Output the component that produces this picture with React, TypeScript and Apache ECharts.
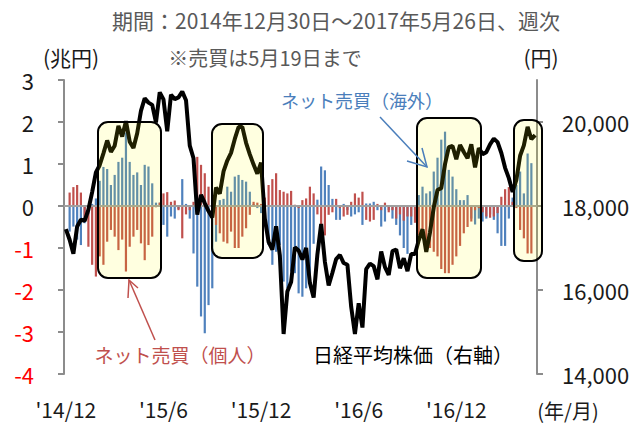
import React, { useEffect, useRef } from "react";
import * as echarts from "echarts";

const FONT = '"Noto Sans CJK JP", "Noto Sans", sans-serif';

const titleText = "期間：2014年12月30日～2017年5月26日、週次";
const noteText = "※売買は5月19日まで";
const leftUnit = "(兆円)";
const rightUnit = "(円)";
const xUnit = "(年/月)";
const foreignLabel = "ネット売買（海外）";
const individualLabel = "ネット売買（個人）";
const nikkeiLabel = "日経平均株価（右軸）";

const tickIndices = [0, 26, 52, 78, 104];
const tickLabels = ["'14/12", "'15/6", "'15/12", "'16/6", "'16/12"];
const rightTicks = [14000, 16000, 18000, 20000];

// Net purchases by foreign investors (trillion yen), weekly
const foreign = [
  null, -0.61, -0.49, -0.8, -0.93, -0.41, -0.2, 0.05, 0.18, 0.6,
  0.93, 0.88, 0.5, 0.74, 1.05, 1.15, 1.75, 1.05, 0.74, 0.8,
  0.5, 0.98, 0.94, 0.54, 0.08, 0.08, -0.45, -0.73, -0.25, -0.3,
  -0.07, 0.64, 0.05, -0.3, -1.13, -1.92, -2.63, -3.03, -2.36, -1.96,
  -0.85, 0.14, 0.17, 0.46, 0.34, 0.7, 0.74, 0.62, 0.58, 0.34,
  0.05, -0.05, -0.17, -0.3, -0.93, -1.4, -1.09, -0.93, -1.8, -1.96,
  -1.56, -1.6, -2.08, -2.16, -1.96, -1.84, -0.9, 0.15, 0.94, 0.85,
  0.5, 0.17, -0.33, -0.33, 0.05, -0.1, -0.25, -0.2, -0.15, -0.45,
  0.06, 0.06, 0.1, -0.1, -0.49, -0.37, -0.1, -0.3, -0.45, -0.7,
  -1.0, -1.14, -0.45, -0.1, 0.26, 0.46, 0.3, 0.35, 0.82, 1.15,
  1.58, 1.77, 0.86, 0.7, 0.4, 0.14, 0.14, 0.26, -0.3, -0.44,
  -0.3, -0.37, -0.3, -0.2, -0.33, -0.65, -0.95, -0.95, -0.3, 0.2,
  0.5, 0.82, 0.3, 1.25, 1.02, null,
];

// Net purchases by individual investors (trillion yen), weekly
const individual = [
  null, 0.32, 0.45, 0.5, 0.32, -0.3, -0.97, -1.4, -1.68, -1.2,
  -1.4, -0.85, -0.57, -0.73, -1.05, -0.8, -1.56, -0.97, -0.73, -0.57,
  -0.89, -1.29, -0.93, -0.73, -0.03, 0.08, 0.3, 0.33, 0.1, 0.13,
  -0.1, -0.77, -0.2, -0.1, 0.1, 1.17, 0.98, 0.78, 0.46, 0.2,
  -0.45, -0.65, -0.85, -0.89, -0.61, -1.0, -1.0, -0.73, -0.53, -0.21,
  0.1, 0.08, 0.05, 0.2, 0.5, 0.64, 0.78, 0.38, 0.34, 0.3,
  0.36, 0.03, -0.05, 0.14, 0.18, 0.46, 0.3, -0.2, -0.55, -0.7,
  -0.21, -0.15, 0.17, -0.05, -0.25, -0.21, 0.1, 0.3, 0.2, 0.34,
  -0.33, -0.37, -0.33, 0.05, -0.1, 0.08, -0.15, -0.1, -0.3, -0.2,
  -0.35, -0.25, -0.25, -0.4, -0.7, -0.65, -0.81, -1.0, -1.09, -1.2,
  -1.5, -1.6, -1.6, -1.4, -1.2, -0.95, -0.65, -0.5, -0.37, -0.1,
  -0.05, -0.15, -0.25, -0.28, -0.25, -0.17, 0.22, 0.4, 0.45, 0.1,
  -0.05, -0.57, -0.77, -1.13, -1.13, null,
];

// Nikkei 225 (yen), weekly
const nikkei = [
  17450, 17197, 16864, 17511, 17674, 17648, 17913, 18332, 18798, 18971,
  19254, 19560, 19286, 19435, 19908, 19653, 20020, 19532, 19380, 19733,
  20264, 20563, 20461, 20407, 19990, 20706, 20539, 19780, 20650, 20544,
  20585, 20724, 20519, 19436, 19136, 17792, 18264, 18070, 17880, 17725,
  18438, 18291, 18825, 19083, 19265, 19597, 19879, 19883, 19504, 19230,
  18986, 18769, 19034, 17698, 17147, 16958, 17518, 16820, 14952, 15967,
  16188, 17015, 16939, 16725, 17002, 16164, 15822, 16848, 17572, 16666,
  16106, 16412, 16736, 16834, 16642, 16601, 15599, 14952, 15682, 15106,
  16497, 16627, 16569, 16254, 16919, 16545, 16360, 16925, 16965, 16519,
  16754, 16449, 16860, 16856, 17184, 17446, 16905, 17374, 17968, 18381,
  18426, 18996, 19401, 19428, 19114, 19454, 19287, 19137, 19467, 18918,
  19378, 19235, 19283, 19469, 19604, 19521, 19262, 18909, 18664, 18335,
  18620, 19197, 19445, 19883, 19590, 19686,
];

function buildCategories(n: number): string[] {
  const out: string[] = ["2014/12/30"];
  for (let k = 1; k < n; k++) {
    const d = new Date(2015, 0, 9 + 7 * (k - 1));
    out.push(`${d.getFullYear()}/${d.getMonth() + 1}/${d.getDate()}`);
  }
  return out;
}

const categories = buildCategories(nikkei.length);

export default function App() {
  const ref = useRef<HTMLDivElement>(null);

  useEffect(() => {
    if (!ref.current) return;
    const chart = echarts.init(ref.current, undefined, { renderer: "svg" });
    const boxStyle = { fill: "rgba(255,255,0,0.12)", stroke: "#000", lineWidth: 2 };
    const boxes = [
      [98, 122, 63, 156],
      [212, 124, 51, 134],
      [417, 118, 64, 160],
      [514, 120, 28, 141],
    ];
    const txt = (x: number, y: number, text: string, color: string, size: number, align = "center") => ({
      type: "text",
      x,
      y,
      z: 110,
      style: {
        text,
        fill: color,
        fontSize: size,
        fontFamily: FONT,
        align,
        verticalAlign: "middle",
      },
    });
    const option: any = {
      animation: false,
      backgroundColor: "#fff",
      textStyle: { fontFamily: FONT },
      grid: { left: 64, right: 106, top: 80, bottom: 49, containLabel: false },
      xAxis: {
        type: "category",
        data: categories,
        boundaryGap: true,
        axisLine: { show: false },
        axisTick: { show: false },
        splitLine: { show: false },
        axisLabel: {
          interval: (i: number) => tickIndices.includes(i),
          formatter: (_v: string, i: number) => {
            const j = tickIndices.indexOf(i);
            return j >= 0 ? tickLabels[j] : "";
          },
          fontSize: 21,
          color: "#1a1a1a",
          margin: 24,
          fontFamily: FONT,
        },
      },
      yAxis: [
        {
          type: "value",
          min: -4,
          max: 3,
          interval: 1,
          position: "left",
          axisLine: { show: true, lineStyle: { color: "#8c8c8c", width: 2 } },
          axisTick: { show: true, length: 6, lineStyle: { color: "#8c8c8c", width: 2 } },
          splitLine: { show: false },
          axisLabel: {
            fontSize: 22,
            margin: 30,
            fontFamily: FONT,
            color: (v: any) => (Number(v) < 0 ? "#ff0000" : "#1a1a1a"),
          },
        },
        {
          type: "value",
          min: 14000,
          max: 21000,
          interval: 2000,
          position: "right",
          axisLine: { show: true, lineStyle: { color: "#8c8c8c", width: 2 } },
          axisTick: { show: true, length: 6, customValues: rightTicks, lineStyle: { color: "#8c8c8c", width: 2 } },
          splitLine: { show: false },
          axisLabel: {
            customValues: rightTicks,
            fontSize: 22,
            margin: 25,
            fontFamily: FONT,
            color: "#1a1a1a",
            formatter: (v: number) => (rightTicks.includes(v) ? v.toLocaleString("en-US") : ""),
          },
        },
      ],
      series: [
        {
          type: "bar",
          name: "foreign",
          data: foreign,
          barWidth: 2.2,
          barGap: "-100%",
          itemStyle: { color: "#4f81bd" },
          markLine: {
            silent: true,
            symbol: "none",
            label: { show: false },
            lineStyle: { color: "#a0a0a0", width: 2, type: "solid" },
            data: [{ yAxis: 0 }],
          },
        },
        {
          type: "bar",
          name: "individual",
          data: individual,
          barWidth: 2.2,
          itemStyle: { color: "#c0504d" },
        },
        {
          type: "line",
          name: "nikkei",
          yAxisIndex: 1,
          data: nikkei,
          symbol: "none",
          lineStyle: { color: "#000", width: 4 },
          z: 5,
        },
      ],
      graphic: [
        ...boxes.map((b) => ({
          type: "rect",
          z: 100,
          shape: { x: b[0], y: b[1], width: b[2], height: b[3], r: 10 },
          style: boxStyle,
        })),
        txt(336, 20, titleText, "#595959", 21),
        txt(265, 57, noteText, "#595959", 20),
        txt(71, 57, leftUnit, "#1a1a1a", 21),
        txt(541, 57, rightUnit, "#1a1a1a", 21),
        txt(568, 410, xUnit, "#1a1a1a", 20),
        txt(362, 100, foreignLabel, "#4a7ebb", 18),
        txt(180, 354, individualLabel, "#c0504d", 19),
        txt(413, 354, nikkeiLabel, "#000", 20),
        {
          type: "polyline",
          z: 110,
          shape: { points: [[380, 117], [427, 167]] },
          style: { stroke: "#4a7ebb", lineWidth: 1.5, fill: null },
        },
        {
          type: "polyline",
          z: 110,
          shape: { points: [[407, 161], [427, 167], [422, 148]] },
          style: { stroke: "#4a7ebb", lineWidth: 1.5, fill: null },
        },
        {
          type: "polyline",
          z: 110,
          shape: { points: [[155, 340], [129, 280]] },
          style: { stroke: "#c0504d", lineWidth: 1.5, fill: null },
        },
        {
          type: "polyline",
          z: 110,
          shape: { points: [[128, 298], [129, 280], [138, 288]] },
          style: { stroke: "#c0504d", lineWidth: 1.5, fill: null },
        },
      ],
    };
    chart.setOption(option);
    return () => chart.dispose();
  }, []);

  return (
    <div
      ref={ref}
      style={{ position: "fixed", left: 0, top: 0, width: 643, height: 423, background: "#fff" }}
    />
  );
}
